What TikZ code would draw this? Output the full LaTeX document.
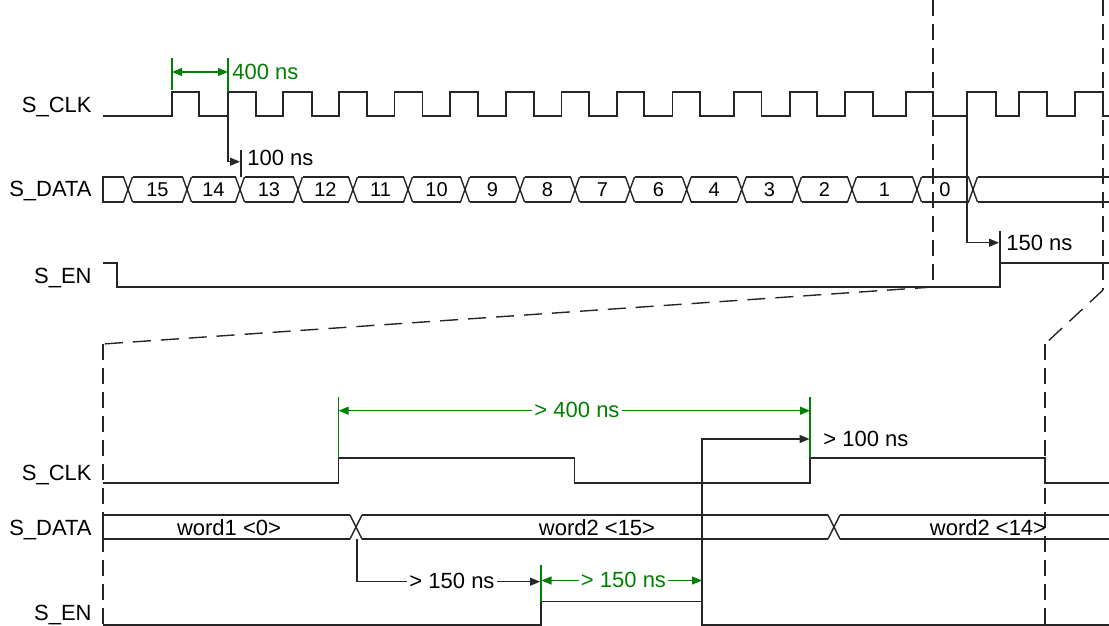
\documentclass[tikz,border=0pt]{standalone}
\usepackage{fontspec}
\setmainfont{Liberation Sans}
\usetikzlibrary{arrows.meta}
\definecolor{markgreen}{RGB}{0,128,0}
\tikzset{
  wave/.style={draw=black!85, line width=0.7pt},
  zoomline/.style={draw=black!85, line width=0.7pt, dash pattern=on 8pt off 4pt},
  grn/.style={draw=markgreen, line width=0.6pt},
  blk/.style={draw=black!85, line width=0.6pt},
  tip/.style={-{Triangle[length=5pt,width=4pt]}},
  sig/.style={anchor=base east, inner sep=0pt, font=\fontsize{11}{13}\selectfont},
  val/.style={anchor=base, inner sep=0pt, font=\fontsize{10}{12}\selectfont},
  ann/.style={anchor=base west, inner sep=0pt, font=\fontsize{11}{13}\selectfont},
  mid/.style={anchor=base, inner xsep=1pt, inner ysep=0pt, font=\fontsize{11}{13}\selectfont},
}
\begin{document}
\begin{tikzpicture}[x=0.5pt, y=-0.5pt]
      \useasboundingbox (0,0) rectangle (1109,626);

      % upper part: labels
      \node[sig] (clk) at (92,113){S\_CLK};
      \node[sig] (data) at (92,197){S\_DATA};
      \node[sig] (en) at (92,283){S\_EN};

      % clock
      \draw[wave] (103,116)
        \foreach \r/\f in {172/199,228/256,283/312,339/367,394.7/422.7,450/478,506/534,561.7/589,
                           617/644,672.7/700,734/761.7,790/817,845/873,906/933,967/996,1019/1047,1075/1103}
        { -- (\r,116) -- (\r,92) -- (\f,92) -- (\f,116) } -- (1109,116);

      % data bus
      \draw[wave] (123.5,177) -- (103,177) -- (103,202) -- (123.5,202);
      \foreach \a/\b/\v in {128/187/15,187/240/14,240/298/13,298/353/12,353/408/11,408/465/10,
                            465/520/9,520/575/8,575/630/7,630/686.7/6,686.7/741.7/4,741.7/797/3,
                            797/852/2,852/917/1,917/973/0}
      {
        \draw[wave] (\a-4.5,177) -- (\a+4.5,202) (\a-4.5,202) -- (\a+4.5,177);
        \draw[wave] (\a+4.5,177) -- (\b-4.5,177) (\a+4.5,202) -- (\b-4.5,202);
        \node[val] at ({(\a+\b)/2},197){\v};
      }
      \draw[wave] (968.5,177) -- (977.5,202) (968.5,202) -- (977.5,177);
      \draw[wave] (977.5,177) -- (1109,177) (977.5,202) -- (1109,202);

      % enable
      \draw[wave] (103,263) -- (117,263) -- (117,287) -- (1000,287) -- (1000,263) -- (1109,263);

      % 400 ns
      \draw[grn] (172,58) -- (172,90) (228,58) -- (228,92);
      \coordinate (per1) at (172,72);
      \coordinate (per2) at (228,72);
      \draw[grn, {Triangle[length=5pt,width=4pt]}-{Triangle[length=5pt,width=4pt]}] (per1) -- (per2);
      \node[ann, text=markgreen] (t400) at (232,80){400 ns};

      % 100 ns
      \coordinate (hold1) at (240,161.7);
      \draw[blk, tip] (228,116) -- (228,161.7) -- (hold1);
      \draw[blk] (241,150) -- (241,177);
      \node[ann] (t100) at (247,166){100 ns};

      % 150 ns
      \coordinate (en1) at (999,242.7);
      \draw[blk, tip] (967,116) -- (967,242.7) -- (en1);
      \draw[blk] (1000,231) -- (1000,263);
      \node[ann] (t150) at (1006,250){150 ns};

      % zoom frame
      \coordinate (za) at (933,287);
      \coordinate (zb) at (1103,290);
      \coordinate (zc) at (103,344);
      \coordinate (zd) at (1045,344);
      \draw[zoomline] (933,0) -- (za);
      \draw[zoomline] (1103,0) -- (zb);
      \draw[zoomline, dash pattern=on 9pt off 5pt] (za) -- (zc);
      \draw[zoomline, dash pattern=on 9pt off 5pt] (zb) -- (zd);
      \draw[zoomline] (zc) -- (103,626);
      \draw[zoomline] (zd) -- (1045,626);

      % lower part: labels
      \node[sig] (clk2) at (92,480){S\_CLK};
      \node[sig] (data2) at (92,535){S\_DATA};
      \node[sig] (en2) at (92,620.7){S\_EN};

      \draw[wave] (103,483) -- (338.6,483) -- (338.6,458) -- (574.5,458) -- (574.5,483) -- (810,483)
                  -- (810,458) -- (1045,458) -- (1045,483) -- (1109,483);

      \draw[wave] (350,515) -- (103,515) -- (103,539) -- (350,539);
      \draw[wave] (350,515) -- (362,539) (350,539) -- (362,515);
      \draw[wave] (362,515) -- (828,515) (362,539) -- (828,539);
      \draw[wave] (828,515) -- (840,539) (828,539) -- (840,515);
      \draw[wave] (840,515) -- (1109,515) (840,539) -- (1109,539);
      \node[mid] (w1) at (229,535){word1 <0>};
      \node[mid] (w15) at (597,535){word2 <15>};
      \node[mid] (w14) at (988,535){word2 <14>};

      \draw[wave] (103,625) -- (541,625) -- (541,601.7) -- (702,601.7) -- (702,625) -- (1109,625);

      % > 400 ns
      \draw[grn] (338.6,397) -- (338.6,458) (810,397) -- (810,458);
      \node[mid, text=markgreen] (g400) at (577,417){> 400 ns};
      \coordinate (gl) at (338.6,410.7);
      \coordinate (gr) at (810,410.7);
      \draw[grn, tip] (g400.west |- gl) -- (gl);
      \draw[grn, tip] (g400.east |- gr) -- (gr);

      % > 100 ns
      \coordinate (s100) at (809.5,439);
      \draw[blk, tip] (702,601.7) -- (702,439) -- (s100);
      \node[ann] (b100) at (823,446.7){> 100 ns};

      % > 150 ns
      \node[mid] (b150) at (452,588){> 150 ns};
      \coordinate (s150) at (540,581.7);
      \draw[blk] (357,539) -- (357,581.7) -- (b150.west |- s150);
      \draw[blk, tip] (b150.east |- s150) -- (s150);
      \draw[grn] (541,565) -- (541,601.7);
      \node[mid, text=markgreen] (g150) at (623.5,587){> 150 ns};
      \coordinate (el) at (541.5,580.5);
      \coordinate (er) at (702,580.5);
      \draw[grn, tip] (g150.west |- el) -- (el);
      \draw[grn, tip] (g150.east |- er) -- (er);

\end{tikzpicture}
\end{document}
